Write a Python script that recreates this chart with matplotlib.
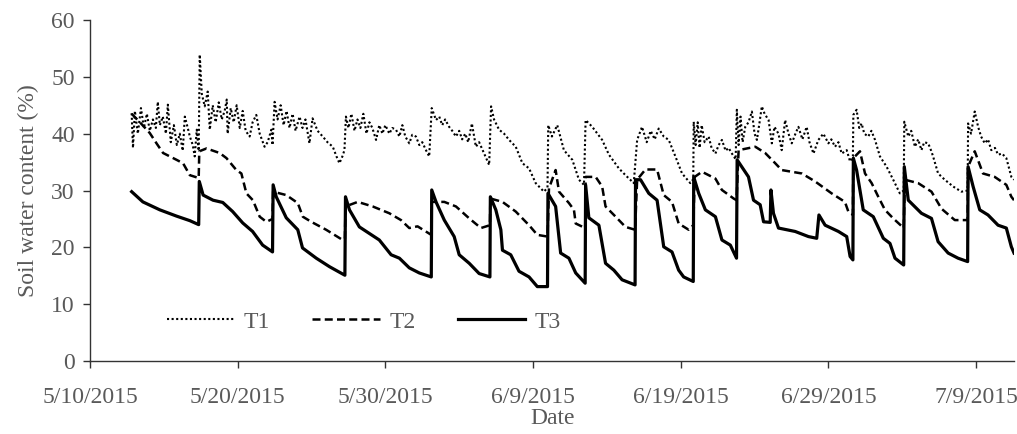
import numpy as np
import matplotlib
matplotlib.use("Agg")
import matplotlib.pyplot as plt
import matplotlib.dates as mdates

# days after 5/10/2015 and soil water content (%)
t1_days = [2.82, 2.91, 3.04, 3.24, 3.45, 3.65, 3.85, 4.05, 4.26, 4.46, 4.59, 4.73, 4.93, 5.14,
           5.27, 5.47, 5.68, 5.88, 6.08, 6.28, 6.42, 6.62, 6.76, 6.96, 7.09, 7.23, 7.36, 7.43,
           7.57, 7.77, 7.97, 8.11, 8.31, 8.51, 8.72, 8.92, 9.12, 9.26, 9.32, 9.53, 9.73, 9.93,
           10.14, 10.34, 10.54, 10.81, 11.01, 11.26, 11.49, 11.82, 12.03, 12.28, 12.36, 12.50,
           12.70, 12.91, 13.11, 13.31, 13.51, 13.72, 13.92, 14.19, 14.39, 14.59, 14.86, 15.07,
           15.41, 15.76, 16.08, 16.44, 16.69, 16.89, 17.09, 17.23, 17.33, 17.50, 17.70, 17.91,
           18.11, 18.31, 18.51, 18.72, 18.92, 19.12, 19.37, 19.59, 19.80, 20.00, 20.27, 20.47,
           20.72, 20.95, 21.15, 21.35, 21.62, 21.82, 22.07, 22.30, 22.50, 22.75, 22.97, 23.14,
           23.43, 23.65, 23.85, 24.05, 24.32, 24.53, 24.78, 25.00, 25.20, 25.41, 25.61, 25.86,
           26.13, 26.35, 26.69, 27.03, 27.16, 27.36, 27.70, 28.04, 28.38, 28.83, 29.28, 29.73,
           30.18, 30.74, 30.98, 31.03, 31.28, 31.64, 32.09, 32.66, 33.11, 33.45, 33.56, 34.01,
           34.68, 35.14, 35.81, 36.26, 36.82, 37.05, 37.38, 37.70, 37.97, 38.24, 38.51, 38.85,
           39.19, 39.64, 40.09, 40.65, 40.85, 40.88, 41.01, 41.15, 41.28, 41.42, 41.62, 41.89,
           42.09, 42.35, 42.57, 42.79, 43.04, 43.24, 43.47, 43.72, 43.80, 43.92, 44.05, 44.19,
           44.37, 44.59, 44.82, 45.00, 45.16, 45.34, 45.49, 45.68, 45.95, 46.17, 46.35, 46.62,
           46.84, 47.07, 47.30, 47.52, 47.77, 47.97, 48.24, 48.53, 48.72, 48.99, 49.32, 49.66,
           50.00, 50.20, 50.45, 50.68, 50.90, 51.24, 51.47, 51.66, 51.69, 51.91, 52.09, 52.25,
           52.43, 52.70, 52.91, 53.16, 53.49, 53.94, 54.39, 54.84, 55.10, 55.14, 55.41, 55.61,
           55.86, 56.08, 56.30, 56.49, 56.76, 56.96, 57.09, 57.43, 57.88, 58.45, 59.01, 59.43,
           59.46, 59.66, 59.91, 60.14, 60.34, 60.59, 60.81, 61.03, 61.28, 61.49, 61.76, 62.05,
           62.39, 62.57]
t1_vals = [43.6, 37.5, 44.0, 40.0, 44.5, 41.0, 43.5, 40.5, 42.5, 41.0, 45.6, 41.5, 43.0, 40.0,
           45.1, 38.5, 41.5, 38.0, 40.0, 37.0, 43.0, 41.0, 39.5, 38.0, 36.0, 40.7, 37.0, 53.9,
           47.0, 44.8, 47.4, 40.7, 45.0, 42.0, 45.5, 42.5, 44.0, 46.0, 40.0, 44.5, 42.0, 45.0,
           41.0, 44.0, 40.5, 39.5, 42.0, 43.3, 40.0, 37.7, 38.5, 40.7, 38.0, 45.6,
           42.5, 45.0, 41.5, 44.0, 41.0, 43.5, 40.5, 43.0, 41.0, 42.5, 38.3, 42.7,
           40.5, 39.5, 38.5, 37.7, 36.0, 34.8, 36.0, 37.1, 43.0, 41.0, 43.5, 40.5,
           42.5, 41.0, 43.5, 40.0, 42.0, 41.0, 38.9, 41.5, 40.0, 41.5, 40.0, 41.0,
           40.7, 39.5, 41.5, 39.5, 38.3, 39.8, 39.5, 38.0, 38.5, 37.1, 36.0, 44.5,
           42.4, 43.0, 41.5, 42.5, 41.2, 40.5, 39.5, 40.5, 39.0, 40.0, 38.5, 41.8,
           37.7, 38.5, 36.5, 34.5, 44.8, 42.5, 40.7, 40.0, 38.9, 37.7, 34.8, 33.9,
           31.3, 29.8, 30.5, 41.5, 39.5, 41.5, 37.1, 35.4, 31.9, 31.0, 42.4, 41.2,
           38.9, 36.3, 33.9, 32.7, 31.3, 38.9, 41.2, 38.5, 40.5, 39.0, 40.9, 39.5,
           38.9, 36.0, 33.0, 31.3, 32.0, 42.1, 38.0, 42.0, 37.5, 41.5, 38.5, 39.5,
           37.5, 36.5, 38.0, 38.9, 37.0, 37.5, 36.5, 35.5, 44.2, 38.0, 43.0, 38.5,
           41.2, 42.0, 43.9, 40.0, 38.9, 42.0, 44.8, 43.5, 42.4, 38.3, 41.2, 40.0,
           37.1, 42.4, 40.0, 38.3, 40.0, 41.2, 39.0, 41.2, 38.5, 36.5, 38.9, 40.0,
           38.3, 39.0, 37.7, 38.5, 36.5, 37.1, 35.1, 36.0, 43.3, 44.2, 41.0, 41.8,
           40.0, 39.5, 40.5, 38.9, 36.0, 34.2, 31.9, 29.5, 30.0, 42.1, 39.5, 40.5,
           37.7, 39.0, 37.1, 38.5, 38.3, 37.0, 36.0, 33.0, 31.9, 30.7, 29.8, 30.0,
           41.8, 40.0, 43.9, 41.2, 39.5, 38.3, 39.0, 37.1, 37.5, 36.3, 36.5, 35.7,
           32.4, 31.9]

t2_days = [2.82, 3.38, 4.05, 4.53, 4.95, 5.86, 6.30, 6.76, 7.36, 7.40, 7.89, 8.78, 9.24, 9.91,
           10.25, 10.59, 11.03, 11.49, 11.94, 12.36, 12.40, 13.29, 14.07, 14.41, 14.98, 15.99,
           17.11, 17.26, 17.30, 18.13, 19.14, 20.27, 21.06, 21.62, 22.18, 23.11, 23.14, 23.99,
           24.78, 25.68, 26.47, 27.08, 27.11, 27.93, 28.83, 29.73, 30.29, 30.98, 31.08, 31.53,
           31.76, 32.43, 32.77, 32.89, 33.53, 33.56, 34.24, 34.68, 34.91, 35.59, 36.26, 36.91,
           37.05, 37.61, 38.40, 38.85, 39.41, 39.86, 40.54, 40.85, 40.95, 41.44, 42.35, 42.79,
           43.58, 43.78, 43.92, 45.05, 45.72, 46.40, 46.84, 48.20, 49.10, 50.22, 51.12, 51.35,
           51.66, 51.69, 52.14, 52.48, 52.93, 53.38, 53.83, 54.39, 55.10, 55.18, 56.08, 56.98,
           57.66, 58.56, 59.43, 59.46, 59.91, 60.47, 61.26, 62.05, 62.39, 62.57]
t2_vals = [43.5, 42.0, 40.1, 38.2, 36.6, 35.4, 34.8, 32.7, 32.2, 36.9, 37.4, 36.6, 35.7, 33.6,
           33.0, 29.5, 28.3, 25.4, 24.5, 25.0, 29.8, 29.2, 27.8, 25.4, 24.5, 23.1,
           21.3, 21.5, 27.2, 28.0, 27.2, 26.0, 24.8, 23.4, 23.7, 22.2, 28.0, 28.0,
           27.2, 25.1, 23.4, 23.9, 28.6, 28.0, 26.3, 23.9, 22.2, 21.9, 30.4, 33.6,
           29.8, 27.8, 26.6, 24.2, 23.4, 32.4, 32.4, 30.7, 27.2, 25.4, 23.6, 23.1,
           31.9, 33.7, 33.7, 29.2, 28.0, 24.2, 23.1, 23.9, 32.4, 33.3, 32.1, 30.1,
           28.6, 28.3, 37.1, 37.7, 36.6, 34.8, 33.6, 33.0, 31.6, 29.5, 28.0, 26.3,
           25.7, 35.7, 36.9, 33.0, 31.3, 28.9, 26.6, 25.1, 23.4, 31.9, 31.3, 29.8,
           26.8, 24.8, 24.8, 34.2, 36.9, 33.0, 32.4, 31.0, 28.9, 28.3]

t3_days = [2.82, 3.58, 4.73, 5.86, 6.76, 7.36, 7.40, 7.66, 8.33, 8.99, 9.66, 10.34, 11.01, 11.69,
           12.36, 12.40, 12.61, 13.29, 14.07, 14.39, 15.32, 16.22, 17.26, 17.30, 17.57, 18.24,
           19.59, 20.39, 20.95, 21.62, 22.30, 23.11, 23.14, 23.43, 23.99, 24.66, 25.00, 25.68,
           26.35, 27.08, 27.11, 27.48, 27.82, 27.93, 28.49, 29.05, 29.73, 30.29, 30.98, 31.01,
           31.53, 31.87, 32.43, 32.89, 33.53, 33.56, 33.78, 34.46, 34.91, 35.47, 36.03, 36.91,
           36.94, 37.28, 37.84, 38.40, 38.85, 39.41, 39.86, 40.20, 40.85, 40.88, 41.22, 41.67,
           42.35, 42.79, 43.36, 43.78, 43.82, 44.59, 44.93, 45.38, 45.61, 46.06, 46.11, 46.28,
           46.62, 47.75, 48.65, 49.21, 49.36, 49.78, 50.68, 51.24, 51.47, 51.66, 51.69, 51.91,
           52.36, 53.04, 53.72, 54.17, 54.51, 55.10, 55.14, 55.41, 56.30, 56.98, 57.43, 58.11,
           58.78, 59.43, 59.46, 59.80, 60.25, 60.81, 61.49, 62.05, 62.39, 62.57]
t3_vals = [29.8, 28.0, 26.6, 25.5, 24.7, 24.0, 31.6, 29.2, 28.3, 27.9, 26.3, 24.3, 22.8, 20.4,
           19.2, 31.0, 28.9, 25.2, 23.1, 19.9, 18.1, 16.6, 15.1, 28.9, 26.6, 23.6,
           21.3, 18.7, 18.1, 16.4, 15.5, 14.8, 30.1, 28.0, 24.8, 21.9, 18.7, 17.2,
           15.4, 14.8, 28.9, 26.6, 23.1, 19.5, 18.7, 15.8, 14.8, 13.1, 13.1, 29.5,
           27.2, 19.0, 18.1, 15.5, 13.7, 31.0, 25.2, 23.9, 17.2, 16.0, 14.3, 13.4,
           31.9, 31.9, 29.5, 28.3, 20.1, 19.2, 16.0, 14.8, 14.0, 32.4, 29.5, 26.6,
           25.4, 21.3, 20.4, 18.1, 35.4, 32.4, 28.3, 27.5, 24.5, 24.4, 30.1, 26.0,
           23.4, 22.8, 21.9, 21.6, 25.7, 23.9, 22.8, 21.9, 18.4, 17.8, 35.7, 33.6,
           26.6, 25.4, 21.6, 20.7, 18.1, 16.9, 34.2, 28.3, 26.0, 25.1, 21.0, 19.0,
           18.1, 17.5, 34.2, 30.7, 26.6, 25.7, 23.9, 23.4, 20.1, 19.0]

tick_days = [0, 10, 20, 30, 40, 50, 60]
start = mdates.date2num(np.datetime64("2015-05-10"))

plt.rcParams["font.family"] = ["Liberation Serif", "DejaVu Serif"]
grey = "#595959"
fs = 17

fig = plt.figure(figsize=(10.17, 4.34), dpi=100)
ax = fig.add_axes([0.0885, 0.168, 0.909, 0.786])

ax.plot(start + np.array(t1_days), t1_vals, color="black", lw=1.5,
        linestyle=(0, (1, 1.2)), label="T1")
ax.plot(start + np.array(t2_days), t2_vals, color="black", lw=1.8,
        linestyle=(0, (3.2, 1.7)), label="T2")
ax.plot(start + np.array(t3_days), t3_vals, color="black", lw=2.3,
        linestyle="-", label="T3")

ax.set_xlim(start, start + 62.6)
ax.set_ylim(0, 60)
ax.set_yticks(range(0, 61, 10))
ax.set_xticks(start + np.array(tick_days))
ax.xaxis.set_major_formatter(mdates.DateFormatter("%-m/%-d/%Y"))

for s in ["top", "right"]:
    ax.spines[s].set_visible(False)
for s in ["left", "bottom"]:
    ax.spines[s].set_color("#333333")
    ax.spines[s].set_linewidth(1.0)

ax.tick_params(axis="both", colors="#333333", labelcolor=grey, labelsize=fs,
               direction="out", length=5, width=1.0)
ax.tick_params(axis="x", pad=14)
ax.tick_params(axis="y", pad=6)

ax.set_ylabel("Soil water content (%)", fontsize=fs, color=grey, labelpad=9)
ax.set_xlabel("Date", fontsize=fs, color=grey, labelpad=0)

leg = ax.legend(loc="center left", bbox_to_anchor=(0.083, 0.115), ncol=3, frameon=False,
                fontsize=fs, handlelength=2.85, columnspacing=1.8, handletextpad=0.4,
                borderpad=0, borderaxespad=0)
for txt in leg.get_texts():
    txt.set_color(grey)

fig.savefig("out.png", dpi=100)
